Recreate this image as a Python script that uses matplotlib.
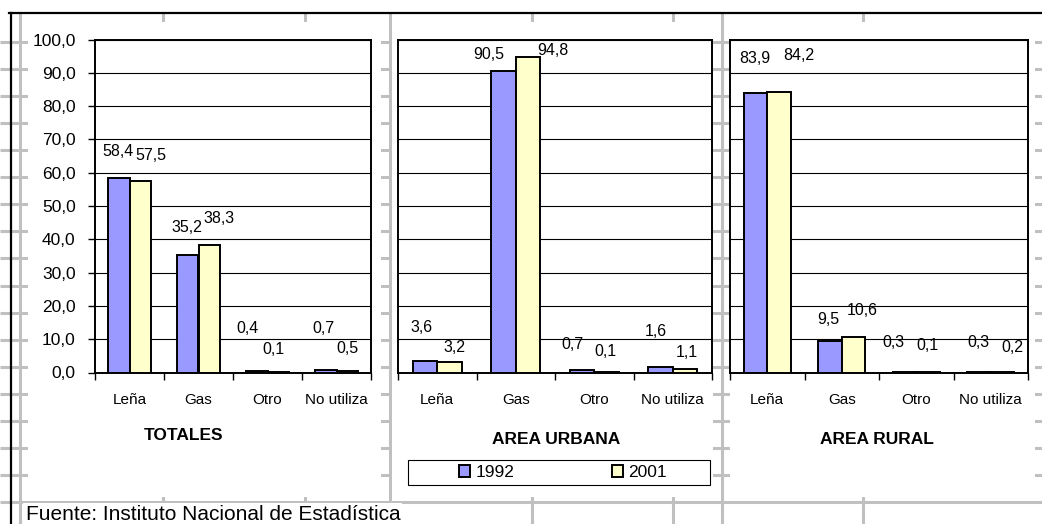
import numpy as np
import matplotlib.pyplot as plt
from matplotlib.patches import Rectangle

# data
categories = ['Leña', 'Gas', 'Otro', 'No utiliza']
panel_titles = ['TOTALES', 'AREA URBANA', 'AREA RURAL']
years = ['1992', '2001']
v1992_totales = [58.4, 35.2, 0.4, 0.7]
v2001_totales = [57.5, 38.3, 0.1, 0.5]
v1992_urbana = [3.6, 90.5, 0.7, 1.6]
v2001_urbana = [3.2, 94.8, 0.1, 1.1]
v1992_rural = [83.9, 9.5, 0.3, 0.3]
v2001_rural = [84.2, 10.6, 0.1, 0.2]
source = 'Fuente: Instituto Nacional de Estadística'

series = [(v1992_totales, v2001_totales),
          (v1992_urbana, v2001_urbana),
          (v1992_rural, v2001_rural)]

# label offsets in pixels (dx, dy) from the top centre of each bar, as placed in the sheet
lbl_off_1992 = [[(-1, 27), (-1, 28), (-9, 43), (-2, 42)],
                [(-3, 33), (-15, 17), (-9, 26), (-5, 36)],
                [(-1, 35), (-2, 21), (-11, 29), (-1, 29)]]
lbl_off_2001 = [[(11, 26), (10, 26), (-5, 23), (0, 22)],
                [(5, 14), (25, 6), (-1, 21), (2, 16)],
                [(20, 37), (9, 27), (-1, 27), (10, 24)]]

W, H = 1042, 524
c_blue = '#9999FF'
c_yell = '#FFFFCC'
grid_grey = '#C0C0C0'
arial = ['Liberation Sans', 'DejaVu Sans']


def box(l, t, r, b):
    return [l / W, 1 - b / H, (r - l) / W, (b - t) / H]


fig = plt.figure(figsize=(W / 100, H / 100), dpi=100)

# spreadsheet background
bg = fig.add_axes([0, 0, 1, 1])
bg.set_xlim(0, W)
bg.set_ylim(H, 0)
bg.axis('off')
rows = 42 + 27.06 * np.arange(18)
cols = [20, 163, 305, 390, 532, 673, 722, 863]
bg.hlines(rows, 0, W, color=grid_grey, lw=2.2, zorder=1)
bg.vlines(cols, 13, H, color=grid_grey, lw=2.2, zorder=1)
for l, t, r, b in [(28, 22, 381, 497), (392, 22, 713, 497), (730, 22, 1035, 497), (23, 503, 402, H)]:
    bg.add_patch(Rectangle((l, t), r - l, b - t, facecolor='white', edgecolor='none', zorder=2))
bg.plot([9, W], [13, 13], color='black', lw=1.6, zorder=3)
bg.plot([10.5, 10.5], [13, H], color='black', lw=1.6, zorder=3)
bg.add_patch(Rectangle((408, 460), 302, 25, facecolor='none', edgecolor='black', lw=0.8, zorder=3))
bg.text(26, 514, source, fontsize=15, family=arial, va='center', ha='left', zorder=4)

ax_boxes = [(95, 39.5, 371, 372.5), (398, 39.5, 712, 372.5), (730, 39.5, 1028, 372.5)]
title_pos = [(183, 435), (556, 440), (877, 440)]

x = np.arange(len(categories))
w = 0.315
handles = None
for i, (a, b) in enumerate(series):
    ax = fig.add_axes(box(*ax_boxes[i]))
    b1 = ax.bar(x - w / 2, a, w, color=c_blue, edgecolor='black', lw=1.4, zorder=3)
    b2 = ax.bar(x + w / 2, b, w, color=c_yell, edgecolor='black', lw=1.4, zorder=3)
    if handles is None:
        handles = [b1, b2]
    ax.set_xlim(-0.5, 3.5)
    ax.set_ylim(0, 100)
    ax.set_yticks(np.arange(0, 101, 10))
    ax.yaxis.grid(True, color='black', lw=0.8)
    ax.set_axisbelow(True)
    for s in ax.spines.values():
        s.set_linewidth(1.4)
    ax.set_xticks(x)
    ax.set_xticklabels(categories, family=arial, fontsize=11)
    ax.set_xticks(np.arange(-0.5, 3.6, 1), minor=True)
    ax.tick_params(axis='x', which='major', length=0, pad=15)
    ax.tick_params(axis='x', which='minor', length=5, width=1, direction='out')
    if i == 0:
        ax.set_yticklabels([f'{v:.1f}'.replace('.', ',') for v in np.arange(0, 101, 10)],
                           family=arial, fontsize=12.5)
        ax.tick_params(axis='y', length=5, width=1, direction='out', pad=9)
    else:
        ax.tick_params(axis='y', length=0, labelleft=False)

    for j in range(len(categories)):
        for vals, offs, xs in [(a, lbl_off_1992[i], x - w / 2), (b, lbl_off_2001[i], x + w / 2)]:
            ax.annotate(f'{vals[j]:.1f}'.replace('.', ','), xy=(xs[j], vals[j]),
                        xytext=offs[j], textcoords='offset pixels',
                        ha='center', va='center', family=arial, fontsize=11.5,
                        annotation_clip=False)

    tx, ty = title_pos[i]
    fig.text(tx / W, 1 - ty / H, panel_titles[i], ha='center', va='center',
             fontsize=12.5, fontweight='bold', family=arial)

fig.legend(handles, years, ncol=2, loc='center', bbox_to_anchor=(563 / W, 1 - 472.5 / H),
           frameon=False, handlelength=0.65, handleheight=0.65, handletextpad=0.3,
           columnspacing=5.6, prop={'family': arial, 'size': 12.5})

fig.savefig('out.png', dpi=100)
